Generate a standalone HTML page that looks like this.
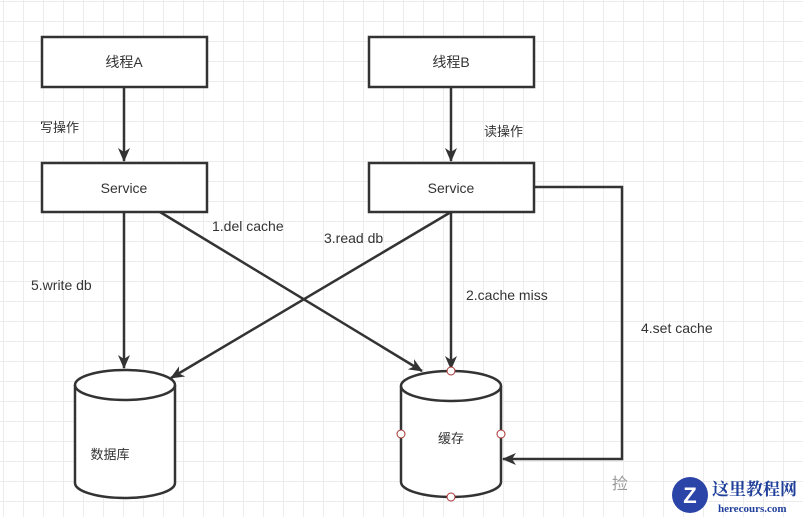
<!DOCTYPE html>
<html><head><meta charset="utf-8"><style>
body{margin:0;width:803px;height:517px;overflow:hidden;background:#fff;}
svg{display:block;font-family:"Liberation Sans","Noto Sans CJK SC",sans-serif;}
</style></head><body>
<svg width="803" height="517" viewBox="0 0 803 517" xmlns="http://www.w3.org/2000/svg">
<defs>
<pattern id="g" x="3" y="1" width="20" height="20" patternUnits="userSpaceOnUse">
<path d="M0 0.5H20M0.5 0V20" stroke="#ececec" stroke-width="1" fill="none"/>
</pattern>
<marker id="a" markerWidth="14" markerHeight="14" refX="13" refY="7" orient="auto" markerUnits="userSpaceOnUse" viewBox="0 0 14 14">
<path d="M0 1L14 7L0 13L4 7Z" fill="#333"/>
</marker>
</defs>
<rect width="803" height="517" fill="url(#g)"/>
<g stroke="#333" stroke-width="2.5" fill="#fff">
<rect x="42" y="37" width="165" height="50"/>
<rect x="369" y="37" width="165" height="50"/>
<rect x="42" y="163" width="165" height="49"/>
<rect x="369" y="163" width="165" height="49"/>
</g>
<g stroke="#333" stroke-width="2.5" fill="none" marker-end="url(#a)">
<line x1="124" y1="87" x2="124" y2="161"/>
<line x1="451" y1="87" x2="451" y2="161"/>
<line x1="124" y1="212" x2="124" y2="368"/>
<line x1="451" y1="212" x2="451" y2="369"/>
<line x1="160" y1="212" x2="422" y2="371"/>
<line x1="451" y1="212" x2="171" y2="378"/>
<polyline points="534,187 622,187 622,459 503,459"/>
</g>
<g stroke="#333" stroke-width="2.5" fill="#fff">
<path d="M75 385 A50 15 0 0 1 175 385 V483 A50 15 0 0 1 75 483 Z"/>
<path d="M75 385 A50 15 0 0 0 175 385" fill="none"/>
<path d="M401 386 A50 15 0 0 1 501 386 V482 A50 15 0 0 1 401 482 Z"/>
<path d="M401 386 A50 15 0 0 0 501 386" fill="none"/>
</g>
<g fill="#fff" stroke="#a33" stroke-width="1">
<circle cx="451" cy="371" r="4"/><circle cx="401" cy="434" r="4"/>
<circle cx="501" cy="434" r="4"/><circle cx="451" cy="497" r="4"/>
</g>
<g font-size="14" fill="#333" text-anchor="middle">
<text x="124" y="67">线程A</text>
<text x="451" y="67">线程B</text>
<text x="124" y="193">Service</text>
<text x="451" y="193">Service</text>
<text x="451" y="443" font-size="13">缓存</text>
<text x="110" y="459" font-size="13">数据库</text>
</g>
<g font-size="14" fill="#333">
<text x="40" y="132" font-size="13">写操作</text>
<text x="484" y="136" font-size="13">读操作</text>
<text x="212" y="231">1.del cache</text>
<text x="324" y="243">3.read db</text>
<text x="31" y="290">5.write db</text>
<text x="466" y="300">2.cache miss</text>
<text x="641" y="333">4.set cache</text>
</g>
<text x="612" y="489" font-size="16" fill="#999">捡</text>
<circle cx="690" cy="495" r="18" fill="#2a44a8"/>
<text x="690" y="503" font-size="22" font-weight="bold" fill="#fff" text-anchor="middle">Z</text>
<text x="712" y="495" font-size="17" font-weight="bold" fill="#1f3f9a" font-family="Liberation Serif,Noto Serif CJK SC,serif">这里教程网</text>
<text x="718" y="512" font-size="11" font-weight="bold" fill="#1f3f9a" font-family="Liberation Serif,serif">herecours.com</text>
</svg>
</body></html>
